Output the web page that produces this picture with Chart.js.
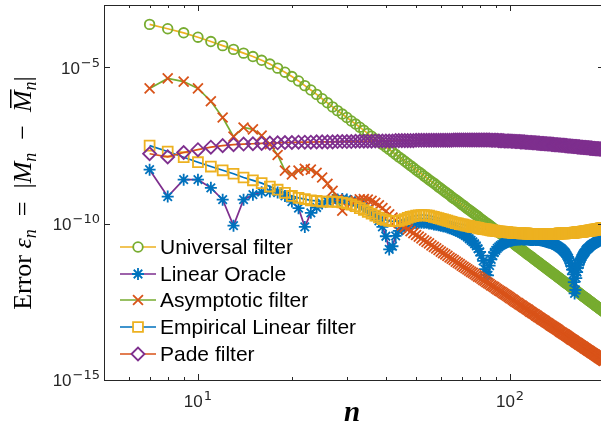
<!DOCTYPE html>
<html lang="en">
<head>
    <meta charset="UTF-8">
    <title>Filter error</title>
    <script src="https://cdn.jsdelivr.net/npm/chart.js"></script>
    <style>
        html, body { margin: 0; padding: 0; overflow: hidden; background: #fff; }
        canvas { display: block; }
    </style>
</head>
<body>
    <canvas id="errChart" width="606" height="426"></canvas>

    <script>
        // n = 7 ... 200
        const nValues = [
            7, 8, 9, 10,
            11, 12, 13, 14, 15, 16, 17, 18, 19, 20,
            21, 22, 23, 24, 25, 26, 27, 28, 29, 30,
            31, 32, 33, 34, 35, 36, 37, 38, 39, 40,
            41, 42, 43, 44, 45, 46, 47, 48, 49, 50,
            51, 52, 53, 54, 55, 56, 57, 58, 59, 60,
            61, 62, 63, 64, 65, 66, 67, 68, 69, 70,
            71, 72, 73, 74, 75, 76, 77, 78, 79, 80,
            81, 82, 83, 84, 85, 86, 87, 88, 89, 90,
            91, 92, 93, 94, 95, 96, 97, 98, 99, 100,
            101, 102, 103, 104, 105, 106, 107, 108, 109, 110,
            111, 112, 113, 114, 115, 116, 117, 118, 119, 120,
            121, 122, 123, 124, 125, 126, 127, 128, 129, 130,
            131, 132, 133, 134, 135, 136, 137, 138, 139, 140,
            141, 142, 143, 144, 145, 146, 147, 148, 149, 150,
            151, 152, 153, 154, 155, 156, 157, 158, 159, 160,
            161, 162, 163, 164, 165, 166, 167, 168, 169, 170,
            171, 172, 173, 174, 175, 176, 177, 178, 179, 180,
            181, 182, 183, 184, 185, 186, 187, 188, 189, 190,
            191, 192, 193, 194, 195, 196, 197, 198, 199, 200
        ];

        // errors, stored as log10 values
        const universalLog = [
            -3.62, -3.76, -3.89, -4.03,
            -4.17, -4.30, -4.42, -4.54, -4.65, -4.77, -4.89, -5.02, -5.15, -5.29,
            -5.43, -5.58, -5.72, -5.86, -6.00, -6.13, -6.26, -6.38, -6.49, -6.60,
            -6.71, -6.81, -6.91, -7.01, -7.11, -7.20, -7.29, -7.38, -7.46, -7.54,
            -7.62, -7.70, -7.78, -7.86, -7.93, -8.00, -8.07, -8.14, -8.21, -8.28,
            -8.34, -8.40, -8.47, -8.53, -8.59, -8.65, -8.70, -8.76, -8.82, -8.87,
            -8.93, -8.98, -9.03, -9.08, -9.14, -9.19, -9.23, -9.28, -9.33, -9.38,
            -9.42, -9.47, -9.52, -9.56, -9.60, -9.65, -9.69, -9.73, -9.77, -9.82,
            -9.86, -9.90, -9.94, -9.98, -10.01, -10.05, -10.09, -10.13, -10.17, -10.20,
            -10.24, -10.27, -10.31, -10.34, -10.38, -10.41, -10.45, -10.48, -10.51, -10.55,
            -10.58, -10.61, -10.64, -10.68, -10.71, -10.74, -10.77, -10.80, -10.83, -10.86,
            -10.89, -10.92, -10.95, -10.98, -11.01, -11.03, -11.06, -11.09, -11.12, -11.15,
            -11.17, -11.20, -11.23, -11.25, -11.28, -11.31, -11.33, -11.36, -11.38, -11.41,
            -11.43, -11.46, -11.48, -11.51, -11.53, -11.56, -11.58, -11.60, -11.63, -11.65,
            -11.67, -11.70, -11.72, -11.74, -11.77, -11.79, -11.81, -11.83, -11.86, -11.88,
            -11.90, -11.92, -11.94, -11.96, -11.98, -12.01, -12.03, -12.05, -12.07, -12.09,
            -12.11, -12.13, -12.15, -12.17, -12.19, -12.21, -12.23, -12.25, -12.27, -12.29,
            -12.31, -12.33, -12.35, -12.36, -12.38, -12.40, -12.42, -12.44, -12.46, -12.48,
            -12.49, -12.51, -12.53, -12.55, -12.57, -12.58, -12.60, -12.62, -12.64, -12.65,
            -12.67, -12.69, -12.70, -12.72, -12.74, -12.75, -12.77, -12.79, -12.80, -12.82
        ];

        const oracleLog = [
            -8.27, -9.13, -8.59, -8.59,
            -8.85, -9.23, -10.06, -9.23, -9.07, -8.99, -8.97, -9.00, -9.11, -9.29,
            -9.50, -10.10, -9.65, -9.48, -9.35, -9.28, -9.24, -9.22, -9.21, -9.22,
            -9.27, -9.32, -9.39, -9.46, -9.55, -9.64, -9.77, -9.91, -10.10, -10.40,
            -10.82, -10.72, -10.39, -10.23, -10.15, -10.08, -10.04, -10.01, -9.98, -9.98,
            -9.97, -9.97, -9.97, -9.97, -9.99, -10.00, -10.02, -10.03, -10.05, -10.06,
            -10.08, -10.09, -10.12, -10.14, -10.16, -10.19, -10.22, -10.24, -10.27, -10.31,
            -10.34, -10.38, -10.43, -10.48, -10.53, -10.58, -10.64, -10.71, -10.80, -10.90,
            -11.02, -11.19, -11.45, -11.64, -11.65, -11.34, -11.14, -11.02, -10.92, -10.85,
            -10.79, -10.74, -10.70, -10.67, -10.65, -10.62, -10.59, -10.58, -10.57, -10.55,
            -10.54, -10.53, -10.52, -10.51, -10.51, -10.50, -10.50, -10.50, -10.49, -10.50,
            -10.50, -10.50, -10.50, -10.50, -10.51, -10.52, -10.52, -10.52, -10.52, -10.51,
            -10.52, -10.52, -10.52, -10.52, -10.53, -10.53, -10.54, -10.55, -10.56, -10.57,
            -10.58, -10.59, -10.60, -10.60, -10.61, -10.63, -10.64, -10.65, -10.67, -10.68,
            -10.70, -10.72, -10.74, -10.76, -10.78, -10.80, -10.83, -10.86, -10.89, -10.92,
            -10.96, -11.01, -11.06, -11.11, -11.18, -11.26, -11.35, -11.47, -11.62, -11.87,
            -12.23, -12.12, -11.74, -11.55, -11.41, -11.31, -11.23, -11.16, -11.10, -11.05,
            -11.00, -10.96, -10.93, -10.90, -10.85, -10.82, -10.80, -10.78, -10.76, -10.73,
            -10.71, -10.69, -10.67, -10.66, -10.64, -10.63, -10.62, -10.60, -10.59, -10.57,
            -10.56, -10.55, -10.54, -10.53, -10.52, -10.51, -10.50, -10.50, -10.49, -10.48
        ];

        const asymptoticLog = [
            -5.67, -5.35, -5.45, -5.67,
            -6.08, -6.60, -7.21, -6.92, -6.98, -7.18, -7.45, -7.80, -8.30, -8.42,
            -8.30, -8.24, -8.27, -8.37, -8.52, -8.72, -8.95, -9.22, -9.58, -9.45,
            -9.33, -9.26, -9.22, -9.21, -9.23, -9.27, -9.33, -9.41, -9.50, -9.60,
            -9.70, -9.80, -9.90, -9.98, -10.05, -10.11, -10.18, -10.24, -10.30, -10.36,
            -10.41, -10.47, -10.53, -10.58, -10.63, -10.69, -10.74, -10.79, -10.84, -10.89,
            -10.94, -10.98, -11.03, -11.08, -11.12, -11.16, -11.21, -11.25, -11.29, -11.34,
            -11.38, -11.42, -11.46, -11.50, -11.54, -11.57, -11.61, -11.65, -11.69, -11.72,
            -11.76, -11.80, -11.83, -11.87, -11.90, -11.93, -11.97, -12.00, -12.03, -12.07,
            -12.10, -12.13, -12.16, -12.19, -12.22, -12.25, -12.28, -12.31, -12.34, -12.37,
            -12.40, -12.43, -12.46, -12.49, -12.52, -12.54, -12.57, -12.60, -12.62, -12.65,
            -12.68, -12.70, -12.73, -12.75, -12.78, -12.81, -12.83, -12.86, -12.88, -12.90,
            -12.93, -12.95, -12.98, -13.00, -13.02, -13.05, -13.07, -13.09, -13.11, -13.14,
            -13.16, -13.18, -13.20, -13.23, -13.25, -13.27, -13.29, -13.31, -13.33, -13.35,
            -13.37, -13.39, -13.41, -13.44, -13.46, -13.48, -13.49, -13.52, -13.53, -13.55,
            -13.57, -13.59, -13.61, -13.63, -13.65, -13.67, -13.69, -13.71, -13.72, -13.74,
            -13.76, -13.78, -13.80, -13.81, -13.83, -13.85, -13.87, -13.88, -13.90, -13.92,
            -13.93, -13.95, -13.97, -13.99, -14.00, -14.02, -14.04, -14.05, -14.07, -14.08,
            -14.10, -14.12, -14.13, -14.15, -14.16, -14.18, -14.19, -14.21, -14.23, -14.24,
            -14.26, -14.27, -14.29, -14.30, -14.32, -14.33, -14.35, -14.36, -14.38, -14.39
        ];

        const empiricalLog = [
            -7.50, -7.69, -7.87, -8.03,
            -8.17, -8.29, -8.40, -8.52, -8.61, -8.70, -8.81, -8.91, -9.01, -9.11,
            -9.17, -9.21, -9.25, -9.27, -9.29, -9.29, -9.29, -9.30, -9.32, -9.35,
            -9.39, -9.44, -9.50, -9.56, -9.62, -9.68, -9.74, -9.80, -9.85, -9.88,
            -9.91, -9.92, -9.92, -9.91, -9.88, -9.85, -9.81, -9.78, -9.76, -9.74,
            -9.73, -9.72, -9.72, -9.73, -9.74, -9.76, -9.78, -9.80, -9.82, -9.84,
            -9.86, -9.88, -9.90, -9.92, -9.94, -9.96, -9.98, -9.99, -10.01, -10.02,
            -10.03, -10.05, -10.06, -10.07, -10.09, -10.10, -10.11, -10.12, -10.13, -10.15,
            -10.16, -10.17, -10.17, -10.18, -10.19, -10.20, -10.21, -10.22, -10.22, -10.23,
            -10.24, -10.24, -10.25, -10.25, -10.26, -10.26, -10.27, -10.27, -10.28, -10.28,
            -10.28, -10.29, -10.29, -10.29, -10.30, -10.30, -10.30, -10.30, -10.31, -10.31,
            -10.31, -10.31, -10.31, -10.32, -10.32, -10.32, -10.32, -10.32, -10.32, -10.32,
            -10.32, -10.33, -10.33, -10.33, -10.33, -10.33, -10.33, -10.33, -10.33, -10.33,
            -10.33, -10.33, -10.33, -10.33, -10.32, -10.32, -10.32, -10.32, -10.32, -10.32,
            -10.32, -10.32, -10.32, -10.31, -10.31, -10.31, -10.31, -10.31, -10.31, -10.31,
            -10.30, -10.30, -10.30, -10.30, -10.30, -10.29, -10.29, -10.29, -10.29, -10.29,
            -10.28, -10.28, -10.28, -10.27, -10.27, -10.27, -10.26, -10.26, -10.26, -10.26,
            -10.25, -10.25, -10.24, -10.24, -10.24, -10.23, -10.23, -10.23, -10.22, -10.22,
            -10.21, -10.21, -10.21, -10.20, -10.20, -10.19, -10.19, -10.19, -10.18, -10.18,
            -10.17, -10.17, -10.16, -10.16, -10.15, -10.15, -10.15, -10.14, -10.14, -10.13
        ];

        const padeLog = [
            -7.76, -7.86, -7.72, -7.63,
            -7.55, -7.50, -7.47, -7.45, -7.44, -7.43, -7.42, -7.41, -7.40, -7.40,
            -7.39, -7.39, -7.39, -7.38, -7.38, -7.38, -7.38, -7.37, -7.37, -7.37,
            -7.37, -7.36, -7.36, -7.36, -7.36, -7.36, -7.35, -7.35, -7.35, -7.35,
            -7.35, -7.35, -7.34, -7.34, -7.34, -7.34, -7.34, -7.34, -7.34, -7.33,
            -7.33, -7.33, -7.33, -7.33, -7.33, -7.33, -7.33, -7.33, -7.33, -7.33,
            -7.33, -7.33, -7.33, -7.33, -7.33, -7.32, -7.32, -7.32, -7.32, -7.32,
            -7.32, -7.32, -7.32, -7.32, -7.32, -7.32, -7.32, -7.32, -7.32, -7.32,
            -7.32, -7.32, -7.32, -7.32, -7.32, -7.32, -7.33, -7.33, -7.33, -7.33,
            -7.33, -7.34, -7.34, -7.34, -7.34, -7.35, -7.35, -7.35, -7.35, -7.35,
            -7.36, -7.36, -7.36, -7.37, -7.37, -7.37, -7.37, -7.38, -7.38, -7.38,
            -7.38, -7.39, -7.39, -7.39, -7.40, -7.40, -7.40, -7.41, -7.41, -7.41,
            -7.41, -7.42, -7.42, -7.42, -7.43, -7.43, -7.43, -7.43, -7.44, -7.44,
            -7.44, -7.45, -7.45, -7.45, -7.45, -7.46, -7.46, -7.46, -7.47, -7.47,
            -7.47, -7.47, -7.48, -7.48, -7.48, -7.49, -7.49, -7.49, -7.49, -7.50,
            -7.50, -7.50, -7.51, -7.51, -7.51, -7.51, -7.52, -7.52, -7.52, -7.53,
            -7.53, -7.53, -7.53, -7.54, -7.54, -7.54, -7.54, -7.55, -7.55, -7.55,
            -7.55, -7.56, -7.56, -7.56, -7.56, -7.57, -7.57, -7.57, -7.57, -7.58,
            -7.58, -7.58, -7.58, -7.59, -7.59, -7.59, -7.59, -7.60, -7.60, -7.60,
            -7.60, -7.60, -7.61, -7.61, -7.61, -7.61, -7.62, -7.62, -7.62, -7.62
        ];

        // axis ticks
        const xMajorTicks = [10, 100];
        const xMinorTicks = [6, 7, 8, 9, 20, 30, 40, 50, 60, 70, 80, 90, 200];
        const yMajorTicks = [1e-15, 1e-10, 1e-5];
        const xTickExps = ['1', '2'];
        const yTickExps = ['\u221215', '\u221210', '\u22125'];

        // MATLAB default colours
        const blue = '#0072BD', red = '#D95319', yellow = '#EDB120', purple = '#7E2F8E', green = '#77AC30';

        const seriesInfo = [
            { label: 'Universal filter', values: universalLog, line: yellow, marker: green, style: 'circle', r: 4.8, order: 5 },
            { label: 'Linear Oracle', values: oracleLog, line: purple, marker: blue, style: 'star', r: 6, order: 4 },
            { label: 'Asymptotic filter', values: asymptoticLog, line: green, marker: red, style: 'crossRot', r: 7, order: 3 },
            { label: 'Empirical Linear filter', values: empiricalLog, line: blue, marker: yellow, style: 'rect', r: 7, order: 2 },
            { label: 'Pade filter', values: padeLog, line: red, marker: purple, style: 'rectRot', r: 6.5, order: 1 }
        ];

        const datasets = seriesInfo.map(s => ({
            label: s.label,
            data: nValues.map((n, i) => ({ x: n, y: Math.pow(10, s.values[i]) })),
            borderColor: s.line,
            borderWidth: 1.7,
            pointStyle: s.style,
            pointRadius: s.r,
            pointBorderColor: s.marker,
            pointBackgroundColor: 'rgba(0,0,0,0)',
            pointBorderWidth: 1.8,
            tension: 0,
            order: s.order
        }));

        const sansFont = '"Liberation Sans", Arial, Helvetica, sans-serif';
        const serifFont = '"Liberation Serif", "DejaVu Serif", serif';

        function drawMarker(ctx, style, x, y, r, color) {
            ctx.save();
            ctx.strokeStyle = color;
            ctx.lineWidth = 1.8;
            ctx.beginPath();
            if (style === 'circle') {
                ctx.arc(x, y, r, 0, Math.PI * 2);
            } else if (style === 'rect') {
                const s = r * Math.SQRT1_2;
                ctx.rect(x - s, y - s, 2 * s, 2 * s);
            } else if (style === 'rectRot') {
                ctx.moveTo(x - r, y); ctx.lineTo(x, y - r); ctx.lineTo(x + r, y); ctx.lineTo(x, y + r); ctx.closePath();
            } else if (style === 'crossRot' || style === 'star') {
                const o = r * Math.SQRT1_2;
                ctx.moveTo(x - o, y - o); ctx.lineTo(x + o, y + o);
                ctx.moveTo(x - o, y + o); ctx.lineTo(x + o, y - o);
                if (style === 'star') {
                    ctx.moveTo(x - r, y); ctx.lineTo(x + r, y);
                    ctx.moveTo(x, y - r); ctx.lineTo(x, y + r);
                }
            }
            ctx.stroke();
            ctx.restore();
        }

        // "10" with a raised exponent
        function drawPower(ctx, exp, x, y, align) {
            const baseFont = '17px ' + sansFont;
            const expFont = '13px "DejaVu Sans", ' + sansFont;
            ctx.font = baseFont;
            const wBase = ctx.measureText('10').width;
            ctx.font = expFont;
            const wExp = ctx.measureText(exp).width;
            const total = wBase + 1 + wExp;
            const left = align === 'right' ? x - total : x - total / 2;
            ctx.textAlign = 'left';
            ctx.textBaseline = 'alphabetic';
            ctx.font = baseFont;
            ctx.fillText('10', left, y);
            ctx.font = expFont;
            ctx.fillText(exp, left + wBase + 1, y - 7);
        }

        const decorations = {
            id: 'decorations',
            afterDraw(chart) {
                const { ctx, chartArea: a, scales: { x, y } } = chart;
                ctx.save();
                ctx.strokeStyle = '#262626';
                ctx.fillStyle = '#262626';
                ctx.lineWidth = 1;

                // box
                ctx.strokeRect(a.left + 0.5, a.top + 0.5, a.right - a.left - 1, a.bottom - a.top);

                ctx.beginPath();
                xMajorTicks.forEach(v => {
                    const px = Math.round(x.getPixelForValue(v)) + 0.5;
                    ctx.moveTo(px, a.bottom); ctx.lineTo(px, a.bottom - 6);
                    ctx.moveTo(px, a.top); ctx.lineTo(px, a.top + 6);
                });
                xMinorTicks.forEach(v => {
                    const px = Math.round(x.getPixelForValue(v)) + 0.5;
                    ctx.moveTo(px, a.bottom); ctx.lineTo(px, a.bottom - 3);
                    ctx.moveTo(px, a.top); ctx.lineTo(px, a.top + 3);
                });
                yMajorTicks.forEach(v => {
                    const py = Math.round(y.getPixelForValue(v)) + 0.5;
                    ctx.moveTo(a.left, py); ctx.lineTo(a.left + 6, py);
                    ctx.moveTo(a.right, py); ctx.lineTo(a.right - 6, py);
                });
                ctx.stroke();

                // tick labels
                ctx.fillStyle = '#262626';
                xMajorTicks.forEach((v, i) => drawPower(ctx, xTickExps[i], x.getPixelForValue(v), 407, 'center'));
                yMajorTicks.forEach((v, i) => drawPower(ctx, yTickExps[i], 100, y.getPixelForValue(v) + 6, 'right'));

                // x title
                ctx.fillStyle = '#000';
                ctx.font = 'bold italic 29px ' + serifFont;
                ctx.textAlign = 'center';
                ctx.textBaseline = 'alphabetic';
                ctx.fillText('n', 352, 421);

                // y title, rotated
                const pieces = [
                    ['Error ', ''], ['\u03b5', 'italic '], ['n', 'sub'], ['  =  |', ''], ['M', 'italic '], ['n', 'sub'],
                    ['  \u2212  ', ''], ['M', 'bar'], ['n', 'sub'], ['|', '']
                ];
                const fontFor = k => k === 'sub' ? 'italic 18px ' + serifFont
                    : (k === 'bar' ? 'italic 26px ' + serifFont : k + '26px ' + serifFont);
                let total = 0;
                pieces.forEach(p => { ctx.font = fontFor(p[1]); total += ctx.measureText(p[0]).width; });
                ctx.save();
                ctx.translate(31, 193);
                ctx.rotate(-Math.PI / 2);
                ctx.textAlign = 'left';
                let u = -total / 2;
                pieces.forEach(p => {
                    ctx.font = fontFor(p[1]);
                    const w = ctx.measureText(p[0]).width;
                    ctx.fillText(p[0], u, p[1] === 'sub' ? 5 : 0);
                    if (p[1] === 'bar') {
                        ctx.fillRect(u + 4, -21, w - 3, 1.5);
                    }
                    u += w;
                });
                ctx.restore();

                // legend
                seriesInfo.forEach((s, i) => {
                    const ly = Math.round(247 + i * 26.7);
                    const mx = 138;
                    ctx.strokeStyle = s.line;
                    ctx.lineWidth = 1.7;
                    ctx.beginPath();
                    const closed = s.style === 'circle' || s.style === 'rect' || s.style === 'rectRot';
                    const gap = closed ? s.r * (s.style === 'rect' ? 0.7 : 1) : 0;
                    ctx.moveTo(120, ly); ctx.lineTo(mx - gap, ly);
                    ctx.moveTo(mx + gap, ly); ctx.lineTo(156, ly);
                    ctx.stroke();
                    drawMarker(ctx, s.style, mx, ly, s.r, s.marker);
                    ctx.fillStyle = '#000';
                    ctx.font = '21px ' + sansFont;
                    ctx.textAlign = 'left';
                    ctx.textBaseline = 'middle';
                    ctx.fillText(s.label, 160, ly + 1);
                });
                ctx.restore();
            }
        };

        const chart = new Chart(document.getElementById('errChart'), {
            type: 'line',
            data: { datasets: datasets },
            options: {
                responsive: false,
                animation: false,
                devicePixelRatio: 1,
                layout: { autoPadding: false, padding: { left: 0, right: 2, top: 5, bottom: 0 } },
                plugins: { legend: { display: false }, tooltip: { enabled: false } },
                scales: {
                    x: {
                        type: 'logarithmic',
                        min: 5,
                        max: 200,
                        grid: { display: false, drawTicks: false },
                        border: { display: false },
                        ticks: { display: false },
                        afterFit: scale => { scale.height = 46; }
                    },
                    y: {
                        type: 'logarithmic',
                        min: 1e-15,
                        max: 1e-3,
                        grid: { display: false, drawTicks: false },
                        border: { display: false },
                        ticks: { display: false },
                        afterFit: scale => { scale.width = 104; }
                    }
                }
            },
            plugins: [decorations]
        });
    </script>
</body>
</html>
